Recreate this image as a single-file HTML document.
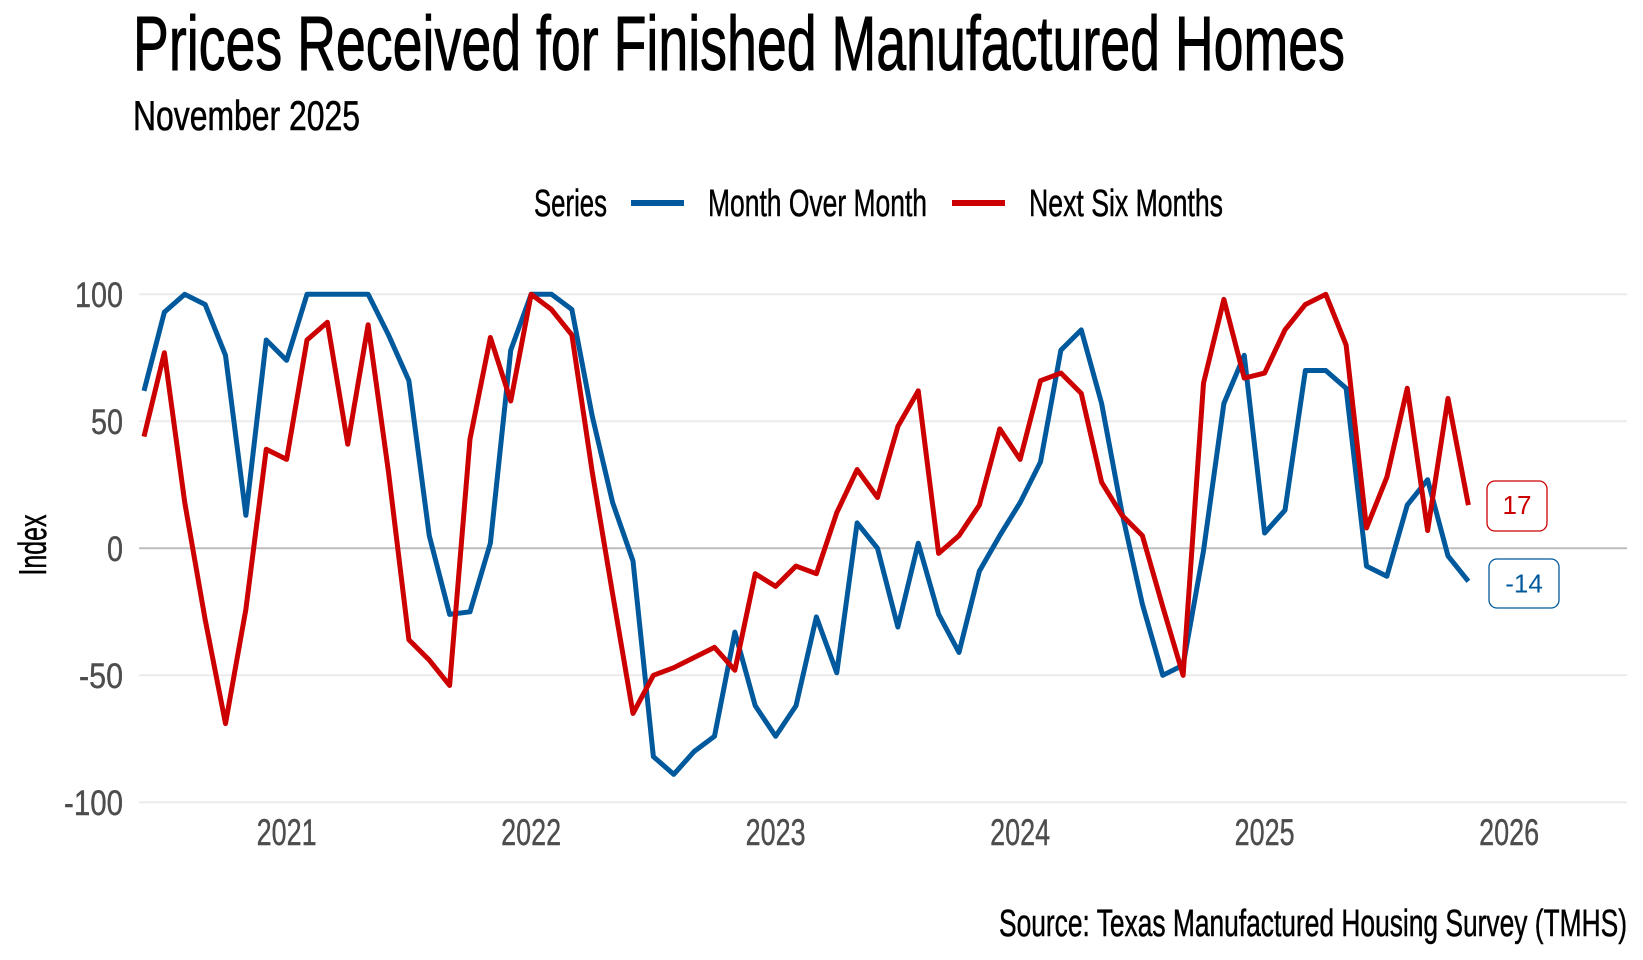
<!DOCTYPE html>
<html>
<head>
<meta charset="utf-8">
<style>
html,body{margin:0;padding:0;background:#fff;}
svg{display:block;}
text{font-family:"Liberation Sans Narrow","Liberation Sans",sans-serif;}
</style>
</head>
<body>
<svg width="1643" height="960" viewBox="0 0 1643 960" xmlns="http://www.w3.org/2000/svg">
<rect x="0" y="0" width="1643" height="960" fill="#ffffff"/>

<!-- Title & subtitle -->
<text x="133" y="70" font-size="77" fill="#000" stroke="#000" stroke-width="0.9" textLength="1212" lengthAdjust="spacingAndGlyphs">Prices Received for Finished Manufactured Homes</text>
<text x="133" y="130" font-size="42" fill="#000" stroke="#000" stroke-width="0.6" textLength="227" lengthAdjust="spacingAndGlyphs">November 2025</text>

<!-- Legend -->
<g fill="#000" stroke="#000" stroke-width="0.5" font-size="38">
<text x="534" y="216" textLength="73" lengthAdjust="spacingAndGlyphs">Series</text>
<text x="708" y="216" textLength="219" lengthAdjust="spacingAndGlyphs">Month Over Month</text>
<text x="1029" y="216" textLength="194" lengthAdjust="spacingAndGlyphs">Next Six Months</text>
</g>
<line x1="631" y1="203" x2="684" y2="203" stroke="#00599c" stroke-width="6"/>
<line x1="952" y1="203" x2="1005" y2="203" stroke="#cc0000" stroke-width="6"/>

<!-- Gridlines -->
<g stroke-width="2">
<line x1="139" y1="294.3" x2="1627" y2="294.3" stroke="#ebebeb"/>
<line x1="139" y1="421.3" x2="1627" y2="421.3" stroke="#ebebeb"/>
<line x1="139" y1="675.3" x2="1627" y2="675.3" stroke="#ebebeb"/>
<line x1="139" y1="802.3" x2="1627" y2="802.3" stroke="#ebebeb"/>
<line x1="139" y1="548.3" x2="1627" y2="548.3" stroke="#bdbdbd"/>
</g>

<!-- Y tick labels -->
<g fill="#4d4d4d" stroke="#4d4d4d" stroke-width="0.4" font-size="35" text-anchor="end">
<text x="123" y="306.8" textLength="48" lengthAdjust="spacingAndGlyphs">100</text>
<text x="123" y="433.8" textLength="32" lengthAdjust="spacingAndGlyphs">50</text>
<text x="123" y="560.8" textLength="16" lengthAdjust="spacingAndGlyphs">0</text>
<text x="123" y="687.8" textLength="44" lengthAdjust="spacingAndGlyphs">-50</text>
<text x="123" y="814.8" textLength="59" lengthAdjust="spacingAndGlyphs">-100</text>
</g>

<!-- Y axis title -->
<text transform="translate(46,545) rotate(-90)" text-anchor="middle" font-size="39" fill="#000" stroke="#000" stroke-width="0.5" textLength="61" lengthAdjust="spacingAndGlyphs">Index</text>

<!-- X tick labels -->
<g fill="#4d4d4d" stroke="#4d4d4d" stroke-width="0.4" font-size="37" text-anchor="middle">
<text x="286.6" y="845" textLength="60" lengthAdjust="spacingAndGlyphs">2021</text>
<text x="531.1" y="845" textLength="60" lengthAdjust="spacingAndGlyphs">2022</text>
<text x="775.6" y="845" textLength="60" lengthAdjust="spacingAndGlyphs">2023</text>
<text x="1020.1" y="845" textLength="60" lengthAdjust="spacingAndGlyphs">2024</text>
<text x="1264.6" y="845" textLength="60" lengthAdjust="spacingAndGlyphs">2025</text>
<text x="1509.1" y="845" textLength="60" lengthAdjust="spacingAndGlyphs">2026</text>
</g>

<!-- Series -->
<g transform="translate(144,548.3) scale(20.375,-2.54)" fill="none" stroke-linejoin="round" stroke-linecap="butt">
<polyline vector-effect="non-scaling-stroke" stroke="#00599c" stroke-width="5" points="0,62 1,93 2,100 3,96 4,76 5,13 6,82 7,74 8,100 9,100 10,100 11,100 12,84 13,66 14,5 15,-26 16,-25 17,2 18,78 19,100 20,100 21,94 22,52 23,18 24,-5 25,-82 26,-89 27,-80 28,-74 29,-33 30,-62 31,-74 32,-62 33,-27 34,-49 35,10 36,0 37,-31 38,2 39,-26 40,-41 41,-9 42,5 43,18 44,34 45,78 46,86 47,57 48,14 49,-22 50,-50 51,-46 52,-1 53,57 54,76 55,6 56,15 57,70 58,70 59,63 60,-7 61,-11 62,17 63,27 64,-3 65,-13"/>
<polyline vector-effect="non-scaling-stroke" stroke="#cc0000" stroke-width="5" points="0,44 1,77 2,18 3,-28 4,-69 5,-24 6,39 7,35 8,82 9,89 10,41 11,88 12,30 13,-36 14,-44 15,-54 16,43 17,83 18,58 19,100 20,94 21,84 22,30 23,-18 24,-65 25,-50 26,-47 27,-43 28,-39 29,-48 30,-10 31,-15 32,-7 33,-10 34,14 35,31 36,20 37,48 38,62 39,-2 40,5 41,17 42,47 43,35 44,66 45,69 46,61 47,26 48,13 49,5 50,-23 51,-50 52,65 53,98 54,67 55,69 56,86 57,96 58,100 59,80 60,8 61,28 62,63 63,7 64,59 65,17"/>
</g>

<!-- End labels -->
<rect x="1487" y="481" width="60" height="50" rx="8" ry="8" fill="#fff" stroke="#cc0000" stroke-width="1.3"/>
<text x="1517" y="514" style="font-family:'Liberation Sans',sans-serif" font-size="26" fill="#cc0000" text-anchor="middle">17</text>
<rect x="1489" y="559" width="70" height="49" rx="8" ry="8" fill="#fff" stroke="#00599c" stroke-width="1.3"/>
<text x="1524" y="592.5" style="font-family:'Liberation Sans',sans-serif" font-size="26" fill="#00599c" text-anchor="middle">-14</text>

<!-- Caption -->
<text x="1627" y="936" font-size="38" fill="#000" stroke="#000" stroke-width="0.5" text-anchor="end" textLength="628" lengthAdjust="spacingAndGlyphs">Source: Texas Manufactured Housing Survey (TMHS)</text>
</svg>
</body>
</html>
